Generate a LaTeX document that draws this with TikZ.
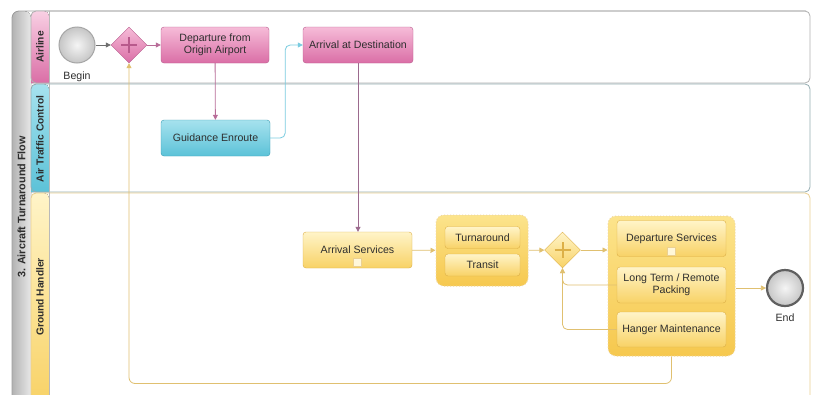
\documentclass[tikz,border=0pt]{standalone}
\usepackage{fontspec}
\setmainfont{Liberation Sans}
\usetikzlibrary{shapes.geometric,arrows.meta,calc}
\definecolor{pinkA}{HTML}{F6BCD8}
\definecolor{pinkB}{HTML}{DA6EA6}
\definecolor{pinkD}{HTML}{B85A8C}
\definecolor{cyanA}{HTML}{A6E2EE}
\definecolor{cyanB}{HTML}{5CC2D8}
\definecolor{cyanD}{HTML}{3A9CB4}
\definecolor{yelA}{HTML}{FFF4C8}
\definecolor{yelB}{HTML}{F8D266}
\definecolor{yelD}{HTML}{DDB048}
\definecolor{grpA}{HTML}{FCE48C}
\definecolor{grpB}{HTML}{F6C84E}
\definecolor{plineC}{HTML}{B86C98}
\definecolor{vlineC}{HTML}{9C6A8E}
\definecolor{clineC}{HTML}{7ACCE0}
\definecolor{ylineC}{HTML}{E0C070}
\definecolor{glineC}{HTML}{6E6E6E}
\definecolor{txt}{HTML}{2E2E2E}
\tikzset{
  task/.style={rectangle, rounded corners=3pt, minimum width=108pt, minimum height=36pt, align=center, inner sep=1pt, font=\fontsize{10.6}{12}\selectfont, text=txt},
  pinktask/.style={task, draw=pinkD, top color=pinkA, bottom color=pinkB},
  cyantask/.style={task, draw=cyanD, top color=cyanA, bottom color=cyanB},
  yeltask/.style={task, draw=yelD, top color=yelA, bottom color=yelB},
  grpbox/.style={rectangle, rounded corners=8pt, draw=yelD!50, dotted, line width=1pt, top color=grpA, bottom color=grpB},
  gw/.style={diamond, minimum width=36pt, minimum height=36pt, inner sep=0pt},
  evt/.style={circle, minimum size=36pt, inner sep=0pt, inner color=gray!8, outer color=gray!45},
  flow/.style={-{Triangle[length=5pt,width=5pt]}, line width=0.8pt},
  lanelabel/.style={rotate=90, font=\bfseries\fontsize{10.2}{11}\selectfont, text=txt},
  lbl/.style={font=\fontsize{10.6}{12}\selectfont, text=txt},
  markbox/.style={rectangle, minimum size=8pt, inner sep=0pt, draw=yelD!60, fill=yelA!70}
}
\begin{document}
\begin{tikzpicture}[x=1pt,y=-1pt]
\useasboundingbox (0,0) rectangle (813,394);
\clip (0,0) rectangle (813,394);
\fill[white] (0,0) rectangle (813,394);
% pool strip
\fill[left color=gray!60, right color=gray!18] (31,404) -- (12,404) [rounded corners=7pt] -- (12,11) -- (31,11) [sharp corners] -- cycle;
\draw[gray!75, line width=0.8pt, rounded corners=7pt] (12,404) -- (12,11) -- (806,11);
\node[lanelabel, font=\bfseries\fontsize{10.8}{12}\selectfont] (pool) at (21.5,207) {3. Aircraft Turnaround Flow};
% lane headers
\fill[top color=pinkA!70, bottom color=pinkB] (49,83) -- (31,83) [rounded corners=5pt] -- (31,11) -- (49,11) [sharp corners] -- cycle;
\fill[top color=cyanA, bottom color=cyanB] (49,192) -- (31,192) [rounded corners=5pt] -- (31,84) -- (49,84) [sharp corners] -- cycle;
\fill[top color=yelA, bottom color=yelB] (49,404) -- (31,404) [rounded corners=5pt] -- (31,193) -- (49,193) [sharp corners] -- cycle;
% lane outlines
\draw[gray!60, line width=0.8pt, rounded corners=5pt] (31,11) rectangle (810,83);
\draw[cyanD!35!gray!70, line width=0.8pt, rounded corners=5pt] (31,84) rectangle (810,192);
\draw[yelD!60, line width=0.8pt, rounded corners=5pt] (31,193) rectangle (810,404);
\draw[gray!55, line width=0.6pt] (49,11) -- (49,404);
\node[lanelabel] (lA) at (40,47) {Airline};
\node[lanelabel] (lB) at (40,139) {Air Traffic Control};
\node[lanelabel] (lC) at (40,297) {Ground Handler};
% nodes
\node[evt, draw=gray!70, line width=1pt] (begin) at (77,45) {};
\node[lbl] (beginL) at (77,77) {Begin};
\node[gw, draw=pinkD, top color=pinkA, bottom color=pinkB] (g1) at (129,45) {};
\draw[pinkD, line width=2pt] ($(g1.center)+(-8,0)$) -- ($(g1.center)+(8,0)$);
\draw[pinkD, line width=2pt] ($(g1.center)+(0,-8)$) -- ($(g1.center)+(0,8)$);
\node[pinktask] (dep) at (215,45) {Departure from\\Origin Airport};
\node[pinktask, minimum width=110pt] (arr) at (358,45) {Arrival at Destination};
\node[cyantask, minimum width=109pt] (guid) at (215.5,138) {Guidance Enroute};
\node[yeltask, minimum width=109pt] (arrs) at (357.5,250) {Arrival Services};
\node[markbox] (m1) at (357.5,262) {};
\node[grpbox, minimum width=92pt, minimum height=71pt] (grp1) at (482,250.5) {};
\node[yeltask, minimum width=75pt, minimum height=22pt] (turn) at (482.5,237.5) {Turnaround};
\node[yeltask, minimum width=75pt, minimum height=22pt] (trans) at (482.5,265) {Transit};
\node[gw, draw=yelD, top color=yelA, bottom color=yelB] (g2) at (562.5,250) {};
\draw[yelD, line width=2pt] ($(g2.center)+(-8,0)$) -- ($(g2.center)+(8,0)$);
\draw[yelD, line width=2pt] ($(g2.center)+(0,-8)$) -- ($(g2.center)+(0,8)$);
\node[grpbox, minimum width=127pt, minimum height=140pt] (grp2) at (671.5,286) {};
\node[yeltask, minimum width=109pt] (deps) at (671.5,238.5) {Departure Services};
\node[markbox] (m2) at (671.5,251) {};
\node[yeltask, minimum width=109pt] (longt) at (671.5,285) {Long Term / Remote\\Packing};
\node[yeltask, minimum width=109pt, minimum height=35pt] (hang) at (671.5,329.5) {Hanger Maintenance};
\node[evt, draw=gray!75!black, line width=2.2pt] (endE) at (785,288) {};
\node[lbl] (endL) at (785,318) {End};
% connectors
\draw[flow, glineC] (begin) -- (g1);
\draw[flow, plineC] (g1) -- (dep);
\draw[flow, plineC] (dep) -- (guid);
\draw[flow, clineC, rounded corners=5pt] (guid.east) -- ++(15,0) |- (arr.west);
\draw[flow, vlineC] (arr.south) -- (arr.south |- arrs.north);
\draw[flow, ylineC] (arrs) -- (grp1);
\draw[flow, ylineC] (grp1) -- (g2);
\draw[flow, ylineC] (g2) -- (grp2.west |- g2);
\draw[flow, ylineC, rounded corners=5pt] (longt.west) -| (g2.south);
\draw[flow, ylineC, rounded corners=5pt] (hang.west) -| (g2.south);
\draw[flow, ylineC] (grp2.east |- endE) -- (endE);
\draw[flow, ylineC, rounded corners=6pt] (grp2.south) -- ++(0,27) -| (g1.south);
\end{tikzpicture}
\end{document}
